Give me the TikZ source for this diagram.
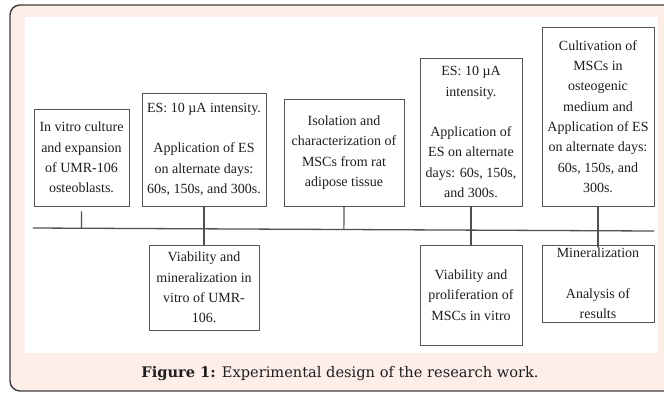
\documentclass[tikz,border=0pt]{standalone}
\usepackage{fontspec}
\setmainfont{Liberation Serif}
\newfontfamily\capfont{DejaVu Serif}
\usepackage{xcolor}
\usepackage{tikz}
\usetikzlibrary{calc}
\definecolor{figframe}{RGB}{60,60,60}
\definecolor{figback}{RGB}{253,238,233}
\definecolor{figline}{RGB}{85,85,85}
\definecolor{figtext}{RGB}{30,30,30}
\tikzset{
  stage/.style ={draw=figline, line width=0.9pt, align=center, inner sep=2pt,
                 text=figtext, font=\fontsize{14}{20.3}\selectfont},
  axis/.style  ={draw=figframe!90, line width=1.3pt},
  tick/.style  ={draw=figframe!90, line width=1.2pt},
}

\begin{document}
\begin{tikzpicture}[x=1pt,y=-1pt]
  \useasboundingbox (0,0) rectangle (664,392);
  \clip (0,0) rectangle (664,392);
  \draw[figframe, fill=figback, line width=1.4pt, rounded corners=10pt] (10,5) rectangle (690,391);
  \fill[white] (25,17) rectangle (658,353);
  % upper stages
  \node[stage, minimum width=95pt,  minimum height=97pt]  (vitro) at (81.5,157.5)
    {In vitro culture\\and expansion\\of UMR-106\\osteoblasts.};
  \node[stage, minimum width=124pt, minimum height=113pt] (esa)   at (204,149.5)
    {ES: 10 µA intensity.\\[20pt]Application of ES\\on alternate days:\\60s, 150s, and 300s.};
  \node[stage, minimum width=120pt, minimum height=107pt] (isol)  at (344,152.5)
    {Isolation and\\characterization of\\MSCs from rat\\adipose tissue};
  \node[stage, minimum width=102pt, minimum height=148pt] (esb)   at (471,132)
    {ES: 10 µA\\intensity.\\[20pt]Application of\\ES on alternate\\days: 60s, 150s,\\and 300s.};
  \node[stage, minimum width=112pt, minimum height=179pt] (cult)  at (598,116.5)
    {Cultivation of\\MSCs in\\osteogenic\\medium and\\Application of ES\\on alternate days:\\60s, 150s, and\\300s.};
  % lower stages
  \node[stage, minimum width=110pt, minimum height=85pt]  (viab)    at (204,287.5)
    {Viability and\\mineralization in\\vitro of UMR-\\106.};
  \node[stage, minimum width=102pt, minimum height=100pt] (prolif)  at (471,295)
    {Viability and\\proliferation of\\MSCs in vitro};
  \node[stage, minimum width=112pt, minimum height=77pt]  (mineral) at (598,283.5)
    {Mineralization\\[20pt]Analysis of\\results};
  % time line
  \coordinate (tlL) at (33,228);
  \coordinate (tlR) at (654,231);
  \draw[axis] (tlL) -- (tlR);
  \draw[tick] ([yshift=-5pt]vitro.south) -- ($(tlL)!(vitro.south)!(tlR)$);
  \draw[tick] (isol.south) -- ($(tlL)!(isol.south)!(tlR)$);
  \draw[tick] (esa.south) -- (viab.north);
  \draw[tick] (esb.south) -- (prolif.north);
  \draw[tick] (cult.south) -- ([yshift=-2pt]mineral.north);
  % caption
  \node[text=figtext, font=\capfont\fontsize{14.6}{17}\selectfont] (caption) at (340,374)
    {\textbf{Figure 1:} Experimental design of the research work.};
\end{tikzpicture}
\end{document}
